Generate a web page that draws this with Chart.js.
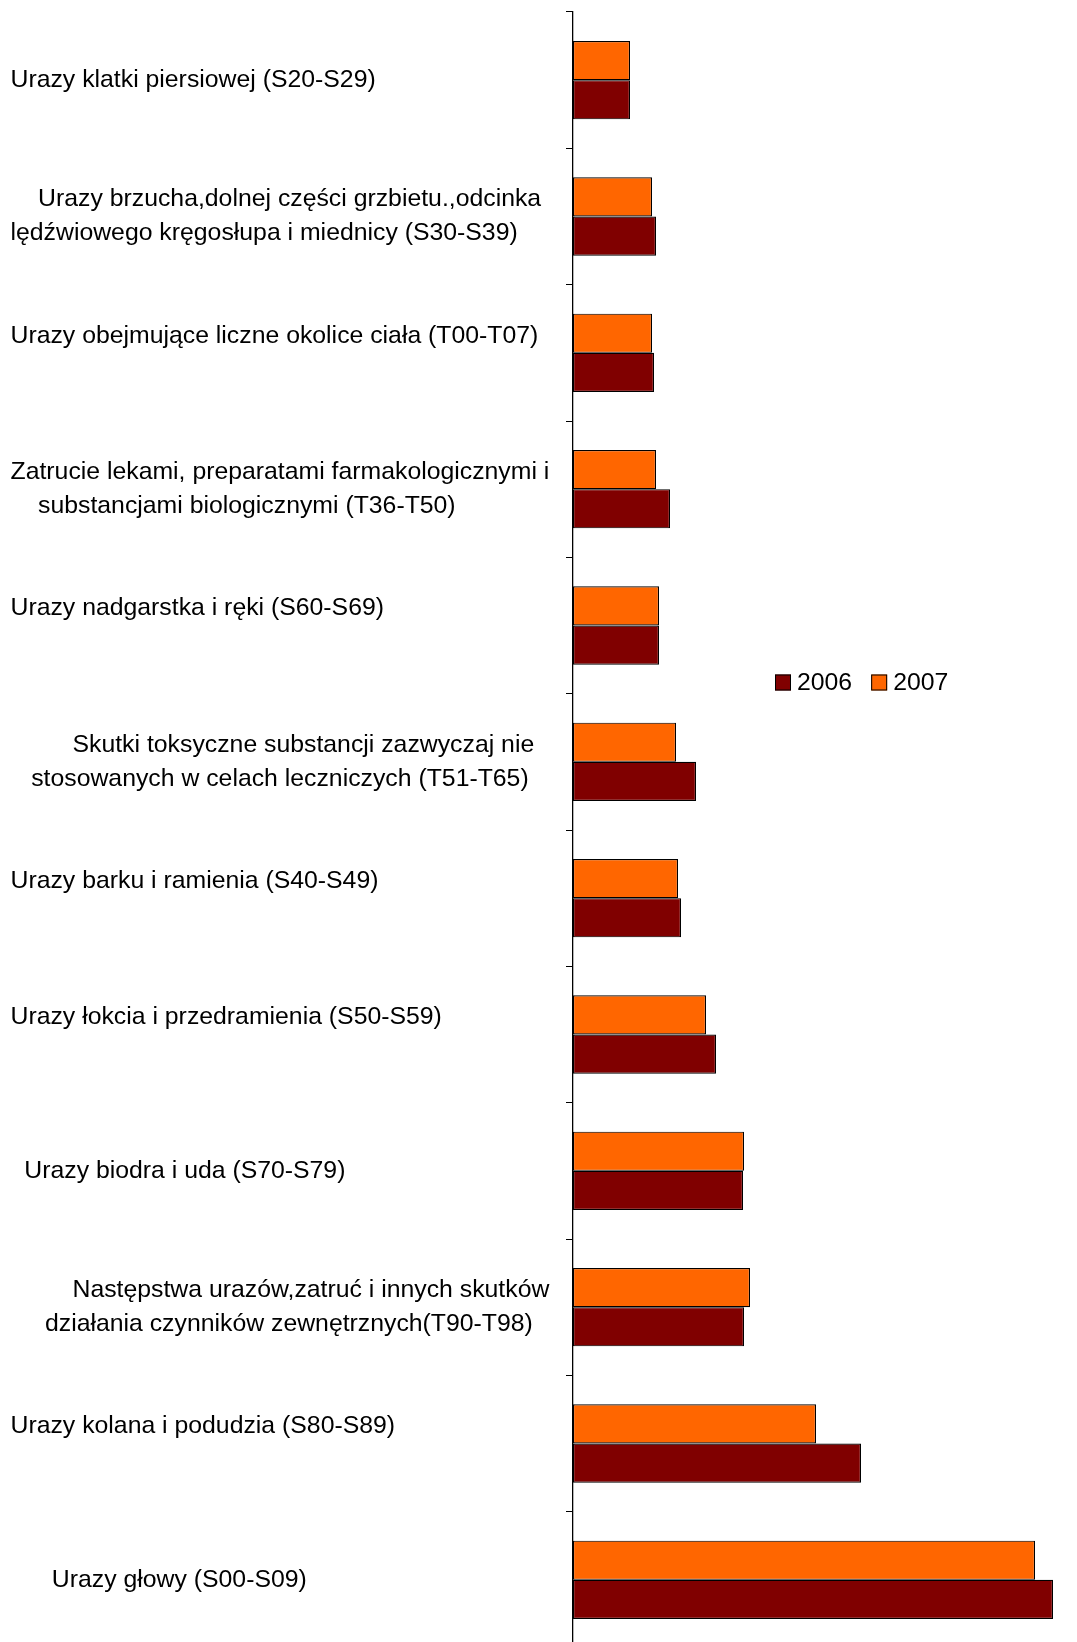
<!DOCTYPE html>
<html>
<head>
<meta charset="utf-8">
<script src="https://cdn.jsdelivr.net/npm/chart.js@4"></script>
<style>
html,body{margin:0;padding:0;background:#fff;overflow:hidden;}
#wrap{position:relative;width:1077px;height:1652px;}
</style>
</head>
<body>
<div id="wrap"><canvas id="c"></canvas></div>
<script>
// Category labels (top to bottom), split into lines as in the original
const categories = [
  ["Urazy klatki piersiowej (S20-S29)"],
  ["    Urazy brzucha,dolnej części grzbietu.,odcinka", "lędźwiowego kręgosłupa i miednicy (S30-S39)"],
  ["Urazy obejmujące liczne okolice ciała (T00-T07)", ""],
  ["Zatrucie lekami, preparatami farmakologicznymi i", "    substancjami biologicznymi (T36-T50)"],
  ["Urazy nadgarstka i ręki (S60-S69)", ""],
  ["         Skutki toksyczne substancji zazwyczaj nie", "   stosowanych w celach leczniczych (T51-T65)"],
  ["Urazy barku i ramienia (S40-S49)", ""],
  ["Urazy łokcia i przedramienia (S50-S59)", ""],
  ["  Urazy biodra i uda (S70-S79)"],
  ["         Następstwa urazów,zatruć i innych skutków", "     działania czynników zewnętrznych(T90-T98)"],
  ["Urazy kolana i podudzia (S80-S89)", ""],
  ["      Urazy głowy (S00-S09)"]
];
const seriesNames = ["2006", "2007"];
const values2006 = [57, 83, 81, 97, 86, 123, 108, 143, 170, 171, 288, 480];
const values2007 = [57, 79, 79, 83, 86, 103, 105, 133, 171, 177, 243, 462];
const xMin = 0;
const xMax = 500;

const FONT = '"Liberation Sans", Arial, sans-serif';

const legendPlugin = {
  id: 'customLegend',
  afterDraw(chart) {
    const ctx = chart.ctx;
    const order = [1, 0]; // show 2006 first, then 2007
    let x = 775;
    const cy = 682.5;
    const box = 16;
    ctx.save();
    ctx.font = '24.8px ' + FONT;
    ctx.textBaseline = 'middle';
    ctx.textAlign = 'left';
    order.forEach(i => {
      const ds = chart.data.datasets[i];
      ctx.fillStyle = ds.backgroundColor;
      ctx.fillRect(x, cy - box / 2, box, box);
      ctx.strokeStyle = '#000';
      ctx.lineWidth = 1;
      ctx.strokeRect(x + 0.5, cy - box / 2 + 0.5, box - 1, box - 1);
      ctx.fillStyle = '#000';
      ctx.fillText(ds.label, x + 22, cy + 1);
      x += 22 + ctx.measureText(ds.label).width + 19;
    });
    ctx.restore();
  }
};

new Chart(document.getElementById('c'), {
  type: 'bar',
  data: {
    labels: categories,
    datasets: [
      {
        label: seriesNames[1],
        data: values2007,
        backgroundColor: '#FF6600',
        borderColor: '#000000',
        borderWidth: 1.2,
        borderSkipped: false
      },
      {
        label: seriesNames[0],
        data: values2006,
        backgroundColor: '#800000',
        borderColor: '#000000',
        borderWidth: 1.2,
        borderSkipped: false
      }
    ]
  },
  options: {
    indexAxis: 'y',
    responsive: true,
    maintainAspectRatio: false,
    animation: false,
    devicePixelRatio: 1,
    layout: { padding: { left: 10.5, top: 12, right: 4, bottom: 4 } },
    datasets: { bar: { categoryPercentage: 0.575, barPercentage: 1.0 } },
    plugins: {
      legend: { display: false },
      tooltip: { enabled: false }
    },
    scales: {
      x: {
        display: false,
        min: xMin,
        max: xMax
      },
      y: {
        position: 'left',
        grid: {
          display: true,
          drawOnChartArea: false,
          drawTicks: true,
          tickLength: 7,
          color: '#000',
          lineWidth: 1,
          offset: true
        },
        border: { display: true, color: '#000', width: 1.3 },
        ticks: {
          crossAlign: 'far',
          color: '#000',
          padding: 0,
          font: { family: FONT, size: 24.8, lineHeight: 1.36 },
          autoSkip: false
        },
        afterFit(scale) {
          scale.width = 562.5;
          scale.paddingTop = 0;
          scale.paddingBottom = 0;
        }
      }
    }
  },
  plugins: [legendPlugin]
});
</script>
</body>
</html>
